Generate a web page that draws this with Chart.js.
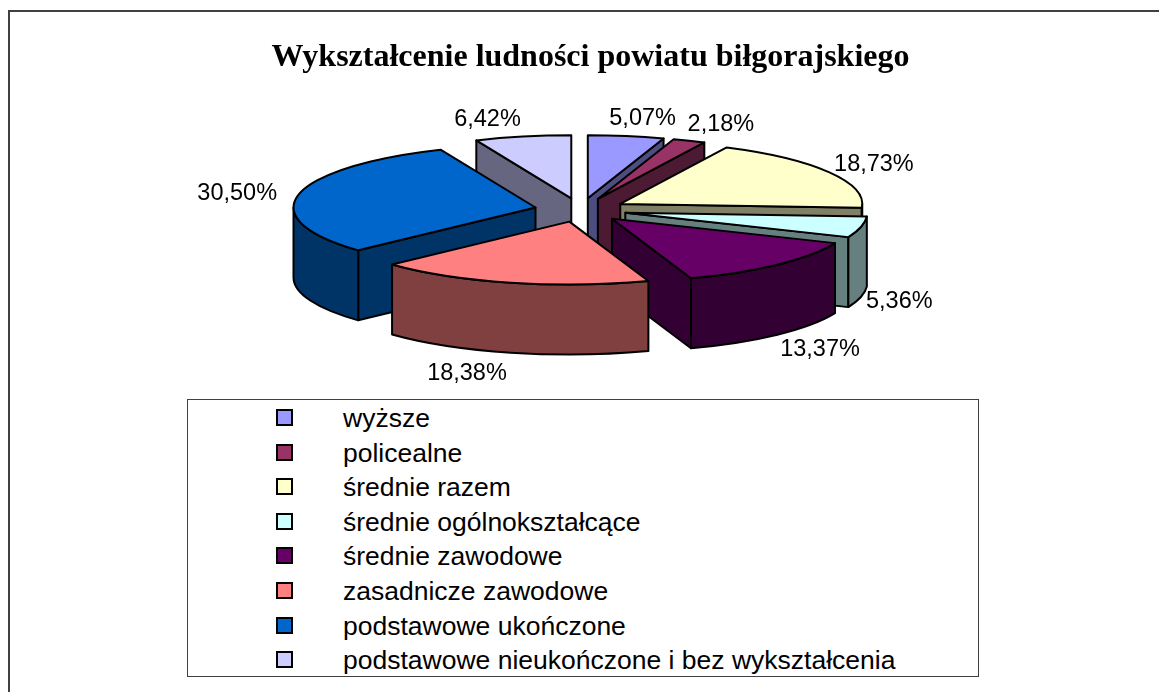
<!DOCTYPE html>
<html>
<head>
<meta charset="utf-8">
<script src="https://cdn.jsdelivr.net/npm/chart.js@4.4.1/dist/chart.umd.min.js"></script>
<style>
  body { margin: 0; background: #fff; }
  #wrap { position: relative; width: 1159px; height: 692px; overflow: hidden; }
  #frame { position: absolute; left: 8px; top: 10px; width: 1400px; height: 900px; border: 2px solid #404040; }
  #chart { position: absolute; left: 0; top: 0; }
  #legend { position: absolute; left: 187px; top: 399px; width: 792px; height: 278px; box-sizing: border-box;
            border: 1.5px solid #404040; background: #fff; padding-top: 1px;
            font-family: "Liberation Sans", Arial, sans-serif; font-size: 26.5px; color: #000; }
  .item { position: relative; height: 34.6px; line-height: 34.6px; }
  .item span.box { position: absolute; left: 88px; top: 8px; width: 13px; height: 13px; border: 2px solid #000; }
  .item span.txt { position: absolute; left: 155px; top: 0; white-space: nowrap; }
</style>
</head>
<body>
<div id="wrap">
  <div id="frame"></div>
  <div id="legend"></div>
  <canvas id="chart" width="1159" height="692"></canvas>
</div>
<script>
// dane
const categories = [
  'wyższe',
  'policealne',
  'średnie razem',
  'średnie ogólnokształcące',
  'średnie zawodowe',
  'zasadnicze zawodowe',
  'podstawowe ukończone',
  'podstawowe nieukończone i bez wykształcenia'
];
const shares = [5.07, 2.18, 18.73, 5.36, 13.37, 18.38, 30.50, 6.42];
const topColors = ['#9999FF', '#993366', '#FFFFCC', '#CCFFFF', '#660066', '#FF8080', '#0066CC', '#CCCCFF'];

// wygląd 3D
const tilt = 0.26;      // spłaszczenie elipsy
const depth = 70;       // wysokość bryły
const pieCenterY = 210;
const pieShiftX = -10;

function darker(hex) {
  let n = parseInt(hex.slice(1), 16);
  let r = (n >> 16) & 255, g = (n >> 8) & 255, b = n & 255;
  return 'rgb(' + Math.round(r * 0.5) + ',' + Math.round(g * 0.5) + ',' + Math.round(b * 0.5) + ')';
}

function fmt(v) {
  return v.toFixed(2).replace('.', ',') + '%';
}

const pie3d = {
  id: 'pie3d',
  beforeDatasetsDraw(chart) {
    const ctx = chart.ctx;
    const meta = chart.getDatasetMeta(0);
    let slices = meta.data.map(function (el, i) {
      const mid = (el.startAngle + el.endAngle) / 2;
      const off = el.options.offset || 0;
      return {
        i: i, s: el.startAngle, e: el.endAngle, mid: mid, R: el.outerRadius,
        ox: el.x + pieShiftX + Math.cos(mid) * off,
        oy: pieCenterY + Math.sin(mid) * off * tilt,
        cx: el.x + pieShiftX, off: off
      };
    });
    // od tyłu do przodu
    let order = slices.slice().sort((a, b) => Math.sin(a.mid) - Math.sin(b.mid));

    ctx.save();
    ctx.lineWidth = 2;
    ctx.lineJoin = 'round';
    ctx.strokeStyle = '#000';
    order.forEach(function (p) {
      const side = darker(topColors[p.i]);
      const rx = p.R, ry = p.R * tilt;

      function wall(t) {
        ctx.beginPath();
        ctx.moveTo(p.ox, p.oy);
        ctx.lineTo(p.ox + rx * Math.cos(t), p.oy + ry * Math.sin(t));
        ctx.lineTo(p.ox + rx * Math.cos(t), p.oy + ry * Math.sin(t) + depth);
        ctx.lineTo(p.ox, p.oy + depth);
        ctx.closePath();
        ctx.fillStyle = side;
        ctx.fill();
        ctx.stroke();
      }
      if (Math.cos(p.s) < 0) wall(p.s);
      if (Math.cos(p.e) > 0) wall(p.e);

      const a0 = Math.max(p.s, 0), a1 = Math.min(p.e, Math.PI);
      if (a1 > a0) {
        ctx.beginPath();
        ctx.ellipse(p.ox, p.oy, rx, ry, 0, a0, a1);
        ctx.ellipse(p.ox, p.oy + depth, rx, ry, 0, a1, a0, true);
        ctx.closePath();
        ctx.fillStyle = side;
        ctx.fill();
        ctx.stroke();
      }

      ctx.beginPath();
      ctx.moveTo(p.ox, p.oy);
      ctx.ellipse(p.ox, p.oy, rx, ry, 0, p.s, p.e);
      ctx.closePath();
      ctx.fillStyle = topColors[p.i];
      ctx.fill();
      ctx.stroke();
    });

    // etykiety procentowe
    ctx.font = '23.5px "Liberation Sans", Arial, sans-serif';
    ctx.fillStyle = '#000';
    ctx.textAlign = 'center';
    ctx.textBaseline = 'middle';
    slices.forEach(function (p) {
      const txt = fmt(shares[p.i]);
      const w = ctx.measureText(txt).width;
      const c = Math.cos(p.mid), s = Math.sin(p.mid);
      const push = Math.min(1.1, 0.4 + 1.8 * Math.abs(c)) * w / 2;
      const lx = p.cx - 8 + c * (p.R + p.off + 10) + Math.sign(c) * push;
      const ly = pieCenterY + s * ((p.R + p.off) * tilt + 21) + (s > 0 ? depth : 3);
      ctx.fillText(txt, lx, ly);
    });
    ctx.restore();
    return false;
  }
};

const chart = new Chart(document.getElementById('chart'), {
  type: 'pie',
  data: {
    labels: categories,
    datasets: [{
      data: shares,
      backgroundColor: topColors,
      borderColor: '#000',
      borderWidth: 2,
      offset: 46,
      radius: 242
    }]
  },
  options: {
    responsive: false,
    animation: false,
    layout: { padding: { left: 22, right: 0, top: 0, bottom: 0 } },
    plugins: {
      legend: { display: false },
      tooltip: { enabled: false },
      title: {
        display: true,
        text: 'Wykształcenie ludności powiatu biłgorajskiego',
        color: '#000',
        font: { family: '"Liberation Serif", "Times New Roman", serif', size: 32, weight: 'bold' },
        padding: { top: 39, bottom: 10 }
      }
    }
  },
  plugins: [pie3d]
});

// legenda
const legend = document.getElementById('legend');
categories.forEach(function (name, i) {
  legend.innerHTML += `
    <div class="item">
      <span class="box" style="background:${topColors[i]}"></span>
      <span class="txt">${name}</span>
    </div>`;
});
</script>
</body>
</html>
